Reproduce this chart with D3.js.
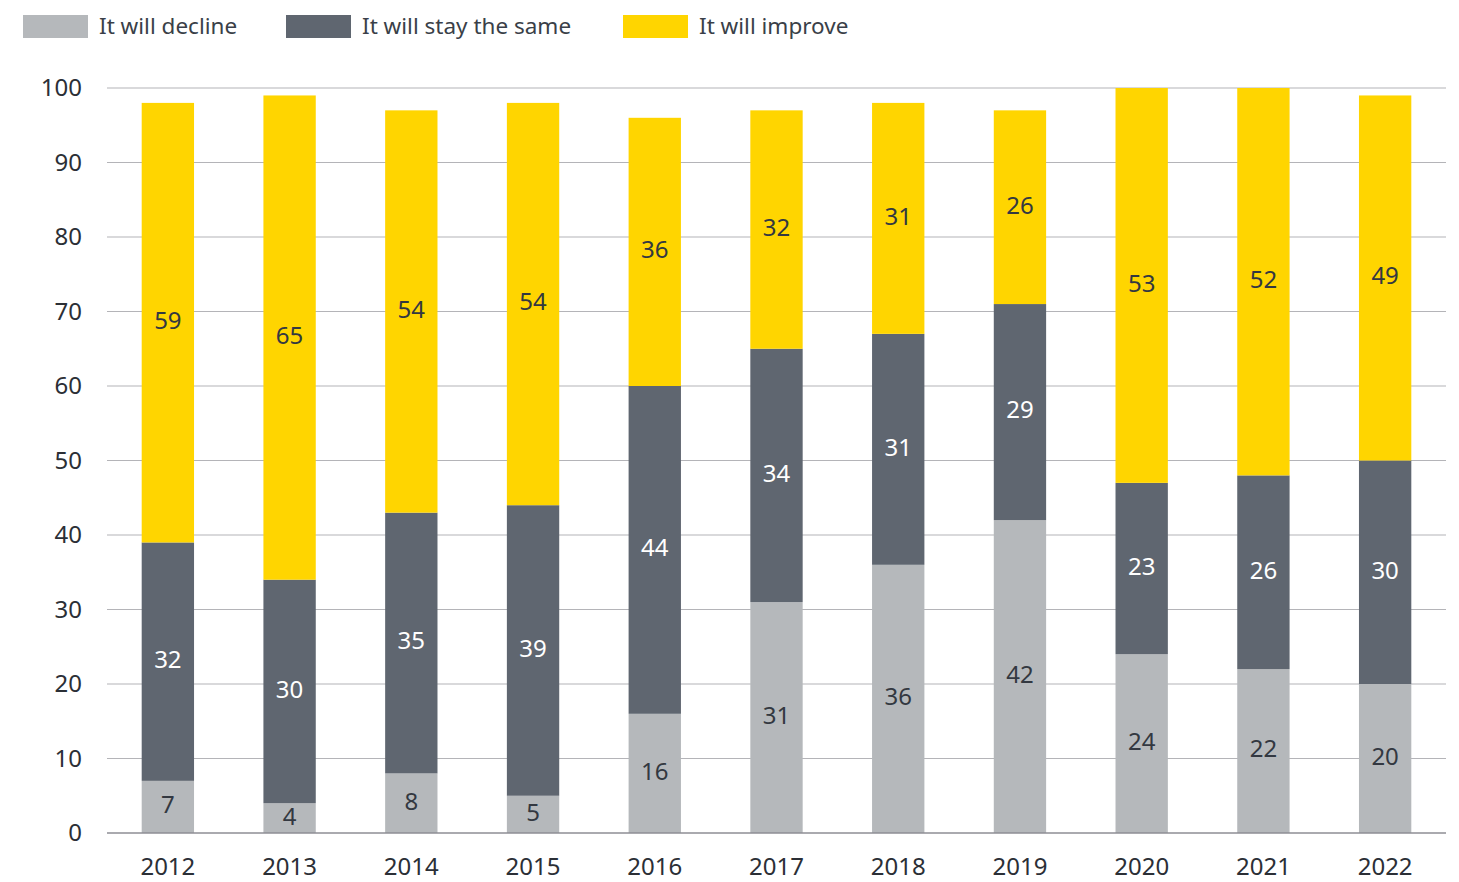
<!DOCTYPE html>
<html>
<head>
<meta charset="utf-8">
<script src="https://cdn.jsdelivr.net/npm/d3@7"></script>
<style>
  body { margin: 0; background: #fff; }
  svg { display: block; font-family: "Noto Sans", "Open Sans", sans-serif; }
</style>
</head>
<body>
<svg id="chart" width="1459" height="882"></svg>
<script>
// Survey years and answer shares (%)
const years = ["2012","2013","2014","2015","2016","2017","2018","2019","2020","2021","2022"];
const decline = [7, 4, 8, 5, 16, 31, 36, 42, 24, 22, 20];
const staySame = [32, 30, 35, 39, 44, 34, 31, 29, 23, 26, 30];
const improve = [59, 65, 54, 54, 36, 32, 31, 26, 53, 52, 49];
const seriesNames = ["It will decline", "It will stay the same", "It will improve"];
const yTicks = [0, 10, 20, 30, 40, 50, 60, 70, 80, 90, 100];

const colors = ["#b5b8bb", "#5f6670", "#ffd500"];
const labelColors = ["#333841", "#ffffff", "#333841"];

const rows = years.map((y, i) => ({ year: y, decline: decline[i], same: staySame[i], improve: improve[i] }));
const keys = ["decline", "same", "improve"];

const svg = d3.select("#chart");
const margin = { left: 107, right: 13, top: 88, bottom: 49 };
const W = 1459, H = 882;

const x = d3.scaleBand().domain(years).range([margin.left, W - margin.right]).paddingInner(0.57).paddingOuter(0.285);
const y = d3.scaleLinear().domain([0, 100]).range([H - margin.bottom, margin.top]);

// Gridlines
svg.append("g")
  .selectAll("line")
  .data(yTicks.filter(t => t > 0))
  .join("line")
  .attr("x1", margin.left).attr("x2", W - margin.right)
  .attr("y1", d => y(d)).attr("y2", d => y(d))
  .attr("stroke", "#b4b4b8").attr("stroke-width", 1.2);

// Y axis labels
const yAxis = svg.append("g")
  .attr("transform", `translate(${margin.left},0)`)
  .call(d3.axisLeft(y).tickValues(yTicks).tickSize(0).tickPadding(25));
yAxis.select(".domain").remove();
yAxis.selectAll("text").attr("font-size", 24).attr("fill", "#2b2f36").attr("font-family", "'Noto Sans', sans-serif");

// Stacked bars
const stacked = d3.stack().keys(keys)(rows);
const layers = svg.append("g").selectAll("g")
  .data(stacked)
  .join("g")
  .attr("fill", (d, i) => colors[i]);

layers.selectAll("rect")
  .data(d => d)
  .join("rect")
  .attr("x", d => x(d.data.year))
  .attr("width", x.bandwidth())
  .attr("y", d => y(d[1]))
  .attr("height", d => y(d[0]) - y(d[1]));

// Value labels centered in each segment
stacked.forEach((layer, i) => {
  svg.append("g").selectAll("text")
    .data(layer)
    .join("text")
    .attr("x", d => x(d.data.year) + x.bandwidth() / 2)
    .attr("y", d => y((d[0] + d[1]) / 2) - 2)
    .attr("dy", "0.35em")
    .attr("text-anchor", "middle")
    .attr("font-size", 24)
    .attr("fill", labelColors[i])
    .text(d => d[1] - d[0]);
});

// Baseline
svg.append("line")
  .attr("x1", margin.left).attr("x2", W - margin.right)
  .attr("y1", y(0)).attr("y2", y(0))
  .attr("stroke", "#8e8e94").attr("stroke-width", 1.5);

// X axis labels
const xAxis = svg.append("g")
  .attr("transform", `translate(0,${y(0)})`)
  .call(d3.axisBottom(x).tickSize(0).tickPadding(25));
xAxis.select(".domain").remove();
xAxis.selectAll("text").attr("font-size", 24).attr("fill", "#2b2f36").attr("font-family", "'Noto Sans', sans-serif");

// Legend
const legendX = [23, 286, 623];
const legend = svg.append("g").selectAll("g")
  .data(seriesNames)
  .join("g")
  .attr("transform", (d, i) => `translate(${legendX[i]},15)`);
legend.append("rect").attr("width", 65).attr("height", 23).attr("fill", (d, i) => colors[i]);
legend.append("text")
  .attr("x", 76).attr("y", 11.5).attr("dy", "0.35em")
  .attr("font-size", 22.5).attr("fill", "#3a3f48")
  .text(d => d);
</script>
</body>
</html>
